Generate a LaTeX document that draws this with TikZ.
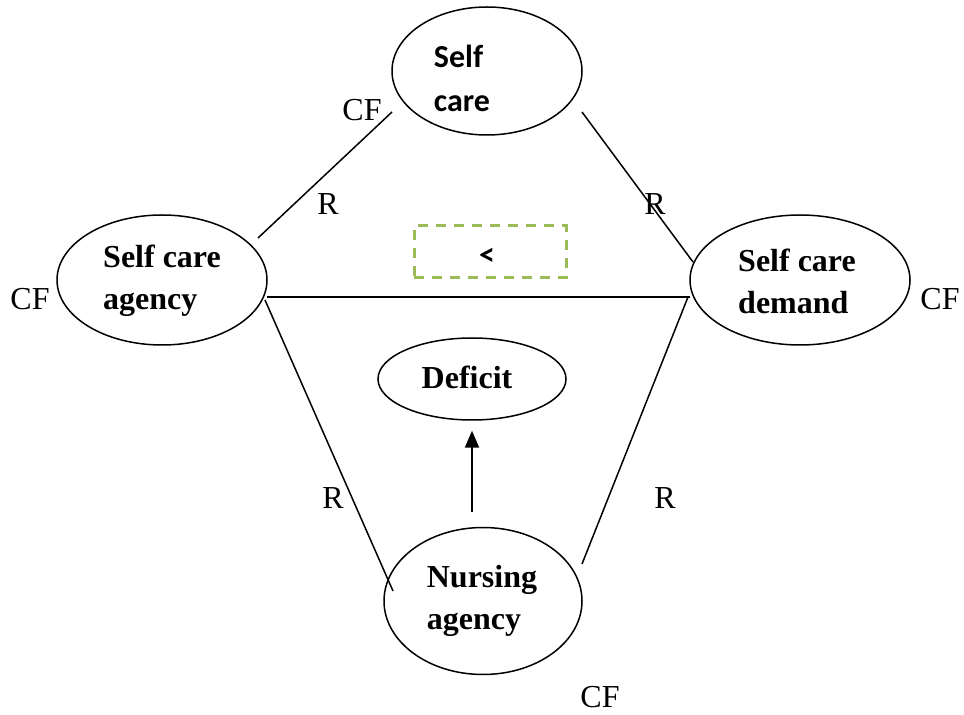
\documentclass[tikz,border=0pt]{standalone}
\usepackage{fontspec}
\setmainfont{Liberation Serif}
\newfontfamily\carlito{Carlito}
\usetikzlibrary{calc,arrows.meta,shapes.geometric}
\definecolor{boxgreen}{RGB}{155,187,89}
\begin{document}
\begin{tikzpicture}[x=0.5pt,y=-0.5pt,
  oval/.style={draw,ellipse,line width=0.75pt,inner sep=0pt},
  btxt/.style={font=\fontsize{16}{21}\selectfont\bfseries,align=left,inner sep=0pt},
  lbl/.style={font=\fontsize{16}{19}\selectfont,inner sep=0pt},
  conn/.style={line width=0.75pt}]
\useasboundingbox (0,0) rectangle (964,715);
\node[oval,minimum width=95pt,minimum height=64pt] (sc) at (487,71) {};
\node[btxt,font=\carlito\fontsize{16}{22}\selectfont\bfseries] (sct) at (462,78) {Self\\care};
\node[oval,minimum width=105pt,minimum height=65pt] (sca) at (162,280) {};
\node[btxt] (scat) at (162,281) {Self care\\agency};
\node[oval,minimum width=110pt,minimum height=65pt] (scd) at (800,280) {};
\node[btxt] (scdt) at (797,281) {Self care\\demand};
\node[oval,minimum width=94pt,minimum height=41pt] (def) at (472,379) {};
\node[btxt] (deft) at (467,377) {Deficit};
\node[oval,minimum width=99pt,minimum height=73.5pt] (na) at (483,601) {};
\node[btxt] (nat) at (482,601) {Nursing\\agency};
\node[draw=boxgreen,line width=1.5pt,dash pattern=on 5pt off 4pt,minimum width=76pt,minimum height=26pt,inner sep=0pt] (box) at (490,252) {};
\node[font=\carlito\fontsize{16}{19}\selectfont\bfseries] (lt) at (487,257) {<};
% connectors
\draw[conn] ($(sca.center)+(96,-42)$) -- ($(sc.center)+(-95,41)$);
\draw[conn] ($(sc.center)+(95,41)$) -- ($(scd.center)+(-107,-18)$);
\draw[conn] ($(sca.center)+(105,17)$) -- ($(scd.center)+(-110,17)$);
\draw[conn] ($(sca.center)+(103,20)$) -- ($(na.center)+(-90,-10)$);
\draw[conn] ($(scd.center)+(-112,17)$) -- ($(na.center)+(99,-37)$);
\draw[line width=1pt,-{Triangle[length=8.5pt,width=7pt]},shorten >=5pt] ($(na.center)+(-11,-89)$) -- (def.south);
% labels
\node[lbl] (cf1) at (362,110) {CF};
\node[lbl] (r1) at (328,204) {R};
\node[lbl] (r2) at (655,204) {R};
\node[lbl] (cf2) at (30,299) {CF};
\node[lbl] (cf3) at (940,299) {CF};
\node[lbl] (r3) at (333,498) {R};
\node[lbl] (r4) at (665,498) {R};
\node[lbl] (cf4) at (600,697) {CF};
\end{tikzpicture}
\end{document}
